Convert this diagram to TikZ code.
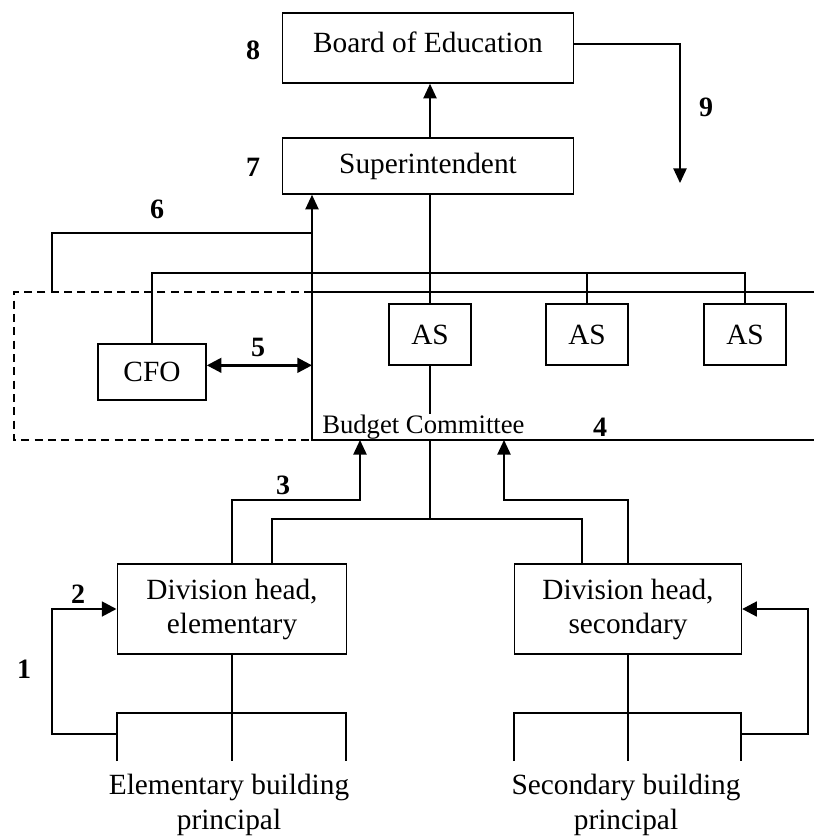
\documentclass[tikz,border=0pt]{standalone}
\usepackage{fontspec}
\setmainfont{Liberation Serif}
\usepackage{tikz}
\usetikzlibrary{arrows.meta, positioning, calc}

\tikzset{
  orgbox/.style={draw, line width=1.2pt, align=center, inner sep=0pt, font=\fontsize{22}{25.5}\selectfont},
  steplabel/.style={inner sep=0pt, font=\fontsize{21}{24}\selectfont\bfseries},
  link/.style={line width=1pt},
  uparrow/.style={line width=1.1pt, -{Triangle[length=11pt,width=10pt]}},
  boldarrow/.style={line width=2pt, -{Triangle[length=11pt,width=11pt]}},
}

\begin{document}
\begin{tikzpicture}[x=0.75pt, y=-0.75pt]
    \useasboundingbox (0,0) rectangle (814,837);

    % Top of the chain
    \node[orgbox, minimum width=218pt, minimum height=52.5pt, text depth=9pt] (board) at (428,48) {Board of Education};
    \node[orgbox, minimum width=218pt, minimum height=42pt] (supt) at (428,166) {Superintendent};

    % Budget committee members
    \node[orgbox, minimum width=81pt, minimum height=42pt] (cfo) at (152,372) {CFO};
    \node[orgbox, minimum width=61.5pt, minimum height=45.75pt] (as1) at (430,334.5) {AS};
    \node[orgbox, minimum width=61.5pt, minimum height=45.75pt] (as2) at (587,334.5) {AS};
    \node[orgbox, minimum width=61.5pt, minimum height=45.75pt] (as3) at (745,334.5) {AS};
    \node[anchor=west, inner sep=0pt, font=\fontsize{20}{24}\selectfont] (bctext) at (322,427) {Budget Committee};

    % Division heads and principals
    \node[orgbox, minimum width=172pt, minimum height=67.5pt] (divel) at (232,609) {Division head,\\elementary};
    \node[orgbox, minimum width=170pt, minimum height=67.5pt] (divsec) at (628,609) {Division head,\\secondary};
    \node[align=center, inner sep=0pt, font=\fontsize{22}{26}\selectfont] (elprin) at (229,805) {Elementary building\\principal};
    \node[align=center, inner sep=0pt, font=\fontsize{22}{26}\selectfont] (secprin) at (626,805) {Secondary building\\principal};

    % Step numbers
    \node[steplabel] (n1) at (24,669) {1};
    \node[steplabel] (n2) at (78,594) {2};
    \node[steplabel] (n3) at (283,485) {3};
    \node[steplabel] (n4) at (600,427) {4};
    \node[steplabel] (n5) at (258,347) {5};
    \node[steplabel] (n6) at (157,209) {6};
    \node[steplabel] (n7) at (253,167) {7};
    \node[steplabel] (n8) at (253,50) {8};
    \node[steplabel] (n9) at (706,107) {9};

    % Budget committee frame
    \coordinate (bctop) at (312,292);
    \coordinate (bcbot) at (312,440);
    \draw[link] (814,292) -- (bctop) -- (bcbot) -- (814,440);
    \draw[link, dash pattern=on 6pt off 4pt] (bctop) -- (14,292) -- (14,440) -- (bcbot);

    % Board and superintendent
    \coordinate (down9) at (680,183);
    \draw[uparrow] (supt.north -| 430,0) -- (board.south -| 430,0);
    \draw[uparrow] ([yshift=3pt]board.east) -| (down9);
    \draw[link] (supt.south -| as1.north) -- (as1.north);
    \draw[link] (cfo.north) |- (as3.north |- 0,273) -- (as3.north);
    \draw[link] (as2.north |- 0,273) -- (as2.north);
    \draw[uparrow] (bcbot) -- (supt.south -| bcbot);
    \draw[link] (bctop -| 52,0) |- (312,233);
    \draw[boldarrow, {Triangle[length=11pt,width=11pt]}-{Triangle[length=11pt,width=11pt]}] ([yshift=5pt]cfo.east) -- ([yshift=5pt]cfo.east -| bcbot);
    \draw[link] (as1.south) -- (430,414);

    % Down to the division heads
    \draw[link] (bcbot -| as1) -- (430,519) -- (272,519) -- (divel.north -| 272,0);
    \draw[link] (430,519) -- (582,519) -- (divsec.north -| 582,0);
    \draw[uparrow] (divel.north) |- (360,500) -- (bcbot -| 360,0);
    \draw[uparrow] (divsec.north) |- (504,500) -- (bcbot -| 504,0);

    % Elementary principals
    \draw[link] (divel.south) -- (232,713);
    \draw[link] (117,761) -- (117,713) -- (346,713) -- (346,761);
    \draw[link] (232,713) -- (232,761);
    \draw[link] (117,734) -| (52,650);
    \draw[boldarrow] (52,650) |- (divel.west);

    % Secondary principals
    \draw[link] (divsec.south) -- (628,713);
    \draw[link] (514,761) -- (514,713) -- (741,713) -- (741,761);
    \draw[link] (628,713) -- (628,761);
    \draw[link] (741,734) -| (808,650);
    \draw[boldarrow] (808,650) |- (divsec.east);
\end{tikzpicture}
\end{document}
